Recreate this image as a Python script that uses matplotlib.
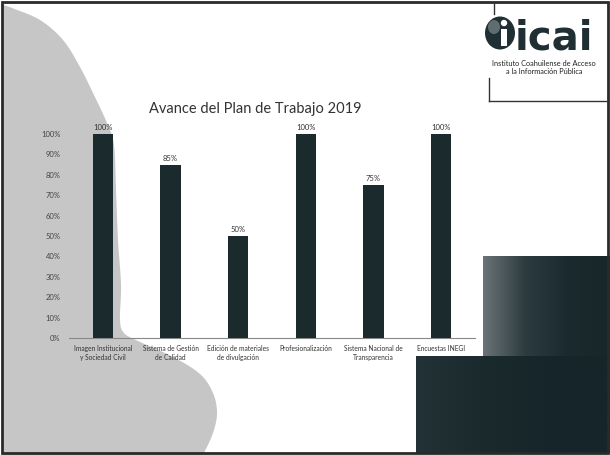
import numpy as np
import matplotlib
matplotlib.use("Agg")
import matplotlib.pyplot as plt
from matplotlib.patches import Polygon, Rectangle, Circle, Ellipse
from matplotlib.colors import LinearSegmentedColormap

plt.rcParams['font.family'] = ['Lato', 'DejaVu Sans']

categories = ["Imagen Institucional\ny Sociedad Civil", "Sistema de Gestión\nde Calidad",
              "Edición de materiales\nde divulgación", "Profesionalización",
              "Sistema Nacional de\nTransparencia", "Encuestas INEGI"]
values = [1.00, 0.85, 0.50, 1.00, 0.75, 1.00]
value_labels = ["100%", "85%", "50%", "100%", "75%", "100%"]
yticks = [0, .1, .2, .3, .4, .5, .6, .7, .8, .9, 1.0]
ytick_labels = ["0%", "10%", "20%", "30%", "40%", "50%", "60%", "70%", "80%", "90%", "100%"]
title = "Avance del Plan de Trabajo 2019"

W, H = 610, 455
fig = plt.figure(figsize=(W / 100, H / 100), dpi=100)

bg = fig.add_axes([0, 0, 1, 1])
bg.set_xlim(0, W)
bg.set_ylim(H, 0)
bg.axis("off")


def catmull(pts, n=12):
    pts = np.asarray(pts, float)
    p = np.vstack([pts[0], pts, pts[-1]])
    out = []
    for i in range(1, len(p) - 2):
        p0, p1, p2, p3 = p[i - 1], p[i], p[i + 1], p[i + 2]
        for t in np.linspace(0, 1, n, endpoint=False):
            t2, t3 = t * t, t * t * t
            out.append(0.5 * ((2 * p1) + (-p0 + p2) * t + (2 * p0 - 5 * p1 + 4 * p2 - p3) * t2
                              + (-p0 + 3 * p1 - 3 * p2 + p3) * t3))
    out.append(p[-2])
    return np.array(out)


edge = [(3, 5), (12, 8), (40, 20), (63, 40), (80, 67), (93, 93), (107, 123), (114, 145),
        (116, 190), (118, 240), (121, 285), (120, 320), (124, 333), (138, 341),
        (173, 357), (200, 374), (213, 393), (217, 413), (213, 433), (203, 455)]
curve = catmull(edge)
poly = np.vstack([curve, [(3, 455)]])
bg.add_patch(Polygon(poly, closed=True, facecolor="#c6c6c6", edgecolor="none", zorder=1))

grad = np.linspace(0, 1, 200)[None, :]
cm1 = LinearSegmentedColormap.from_list("g1", ["#6a7377", "#2c3b3f", "#1a2a2e", "#182729"])
bg.imshow(np.repeat(grad, 10, axis=0), cmap=cm1, extent=(483, 610, 356, 256),
          aspect="auto", zorder=2)
cm2 = LinearSegmentedColormap.from_list("g2", ["#223236", "#1a2a2d", "#16262a", "#15252a"])
bg.imshow(np.repeat(grad, 10, axis=0), cmap=cm2, extent=(416, 610, 453, 356),
          aspect="auto", zorder=2)

# frame lines
bg.add_patch(Rectangle((2, 2), W - 4, H - 4, fill=False, edgecolor="#2a2a2a", lw=2, zorder=5))
bg.plot([494, 494], [2, 14], color="#333333", lw=1, zorder=5)
bg.plot([489, 489], [78, 101], color="#333333", lw=1, zorder=5)
bg.plot([489, 610], [101, 101], color="#333333", lw=1, zorder=5)

# logo
bg.add_patch(Ellipse((500, 33), 30, 33, facecolor="#1f2f33", edgecolor="none", zorder=4))
bg.add_patch(Ellipse((494, 27), 12, 14, facecolor="#7d888b", edgecolor="none", alpha=0.7, zorder=4))
bg.add_patch(Circle((504, 23), 3.2, facecolor="white", edgecolor="none", zorder=4.5))
bg.add_patch(Rectangle((501, 29), 6, 17, facecolor="white", edgecolor="none", zorder=4.5))
bg.text(515, 49, "icai", fontsize=29, fontweight="bold", color="#1f2f33",
        family=["DejaVu Sans"], ha="left", va="baseline", zorder=5)
bg.text(544, 63, "Instituto Coahuilense de Acceso", fontsize=5.3, color="#222222",
        ha="center", va="center", zorder=5)
bg.text(544, 71, "a la Información Pública", fontsize=5.3, color="#222222",
        ha="center", va="center", zorder=5)

bg.text(255, 109, title, fontsize=10.5, color="#333333", ha="center", va="center", zorder=5)

# chart axes
ax = fig.add_axes([69 / W, 117 / H, 406 / W, 204 / H])
ax.patch.set_alpha(0)
x = np.arange(len(categories))
ax.bar(x, values, width=0.3, color="#1b2a2d", zorder=3)
for xi, v, lab in zip(x, values, value_labels):
    ax.text(xi, v + 0.015, lab, ha="center", va="bottom", fontsize=5.5, color="#333333")
ax.set_xlim(-0.5, len(categories) - 0.5)
ax.set_ylim(0, 1)
ax.set_yticks(yticks)
ax.set_yticklabels(ytick_labels, fontsize=5.5, color="#444444")
ax.set_xticks(x)
ax.set_xticklabels(categories, fontsize=4.8, color="#333333", linespacing=1.3)
ax.tick_params(axis="x", length=0, pad=5)
ax.tick_params(axis="y", length=0, pad=6)
for s in ["top", "right", "left"]:
    ax.spines[s].set_visible(False)
ax.spines["bottom"].set_color("#888888")
ax.spines["bottom"].set_linewidth(0.8)

fig.savefig("out.png", dpi=100)
